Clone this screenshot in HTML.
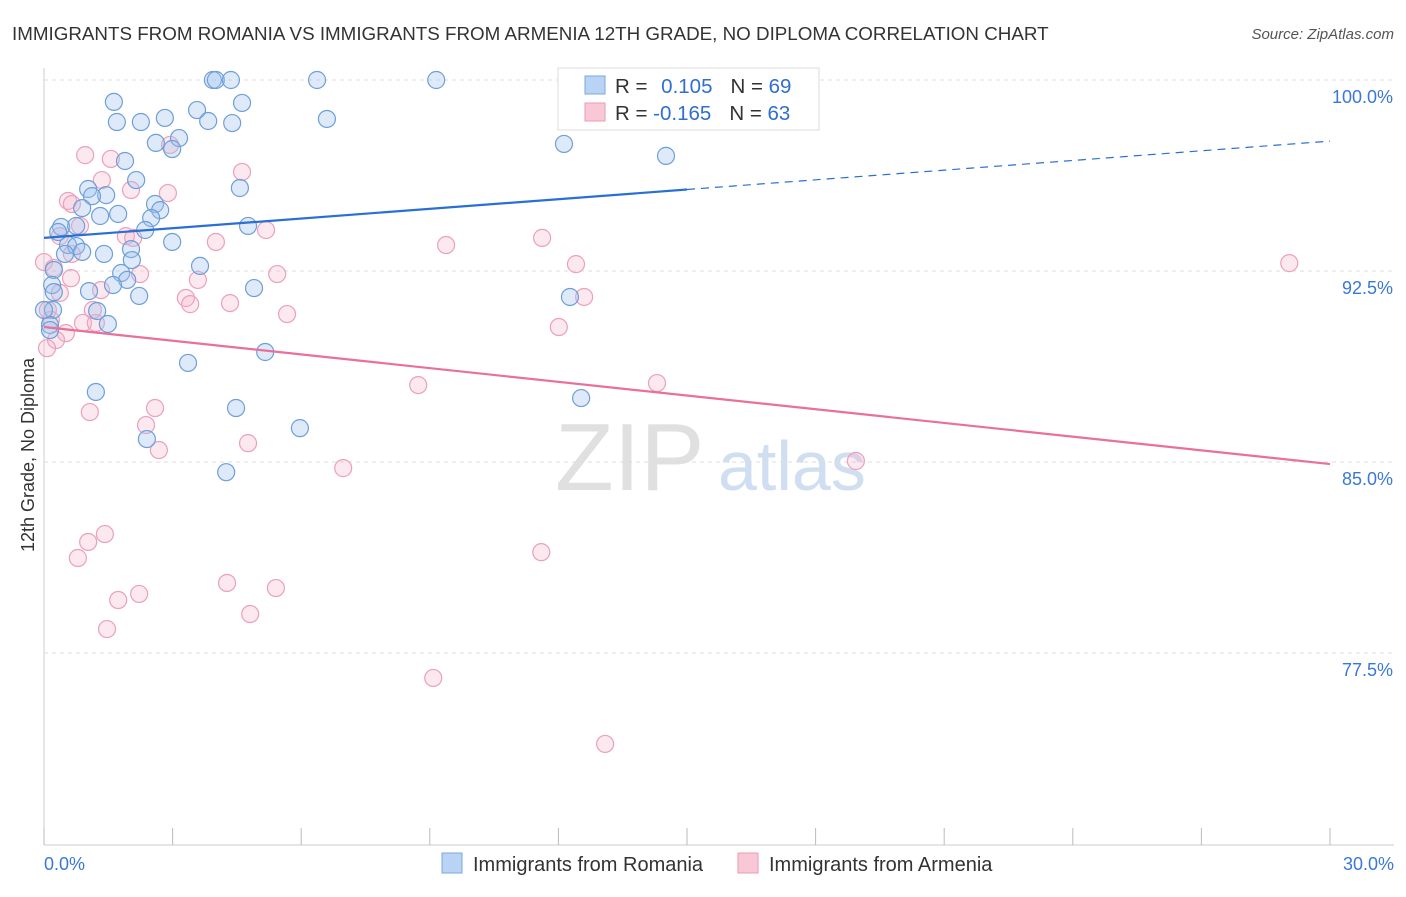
<!DOCTYPE html>
<html><head><meta charset="utf-8"><style>
body{margin:0;background:#fff;font-family:"Liberation Sans",sans-serif;}
svg text{font-family:"Liberation Sans",sans-serif;}
</style></head><body>
<svg id="chart" width="1406" height="892">
<text x="12" y="40" font-size="18.8" fill="#333">IMMIGRANTS FROM ROMANIA VS IMMIGRANTS FROM ARMENIA 12TH GRADE, NO DIPLOMA CORRELATION CHART</text>
<text x="1394" y="39" font-size="15" fill="#555" font-style="italic" text-anchor="end">Source: ZipAtlas.com</text>
<text transform="translate(34,455) rotate(-90)" font-size="18" fill="#333" text-anchor="middle">12th Grade, No Diploma</text>
<text x="555" y="490" font-size="96" fill="#e0e0e0" font-family="Liberation Serif">ZIP</text>
<text x="718" y="490" font-size="70" fill="#d0def2">atlas</text>
<g id="grid"></g><g id="pts"></g><g id="lines"></g>
<g>
<rect x="558" y="68" width="261" height="62" fill="#fff" stroke="#ddd"/>
<rect x="585" y="76" width="20" height="18" fill="#b9d3f5" stroke="#7aa7e0"/>
<rect x="585" y="103" width="20" height="18" fill="#f9c8d6" stroke="#ec9ab5"/>
<text x="615" y="93" font-size="20.5" fill="#333">R = <tspan fill="#2f6fcf" dx="8">0.105</tspan><tspan fill="#333" dx="18">N = </tspan><tspan fill="#2f6fcf">69</tspan></text>
<text x="615" y="120" font-size="20.5" fill="#333">R = <tspan fill="#2f6fcf">-0.165</tspan><tspan fill="#333" dx="18">N = </tspan><tspan fill="#2f6fcf">63</tspan></text>
</g>
<g>
<rect x="442" y="853" width="20" height="20" fill="#b9d3f5" stroke="#7aa7e0"/>
<text x="473" y="871" font-size="20" fill="#333">Immigrants from Romania</text>
<rect x="738" y="853" width="20" height="20" fill="#f9c8d6" stroke="#ec9ab5"/>
<text x="769" y="871" font-size="20" fill="#333">Immigrants from Armenia</text>
</g>
<text x="44" y="870" font-size="18" fill="#3a78d8">0.0%</text>
<text x="1394" y="870" font-size="18" fill="#3a78d8" text-anchor="end">30.0%</text>
</svg>
<script>
const blueX=[3.94,4.01,4.36,6.37,9.15,1.63,4.62,3.57,1.70,2.26,2.82,3.83,4.39,6.60,3.15,2.61,2.99,12.13,14.51,1.89,2.15,1.03,1.45,4.57,1.12,0.89,2.59,2.71,1.73,1.31,2.50,0.40,0.75,4.76,0.33,2.36,0.56,0.75,0.89,0.49,1.40,2.03,2.99,2.05,3.64,1.80,0.23,1.94,1.61,1.05,2.22,4.90,12.27,0.19,0.21,1.24,1.49,0.14,5.16,3.36,1.21,12.53,4.48,5.97,2.40,4.25,0.14,0.23,0];
const blueY=[100,100,100,100,100,99.14,99.10,98.82,98.35,98.35,98.51,98.39,98.31,98.47,97.72,97.53,97.29,97.49,97.02,96.82,96.07,95.72,95.48,95.76,95.44,94.97,95.13,94.89,94.74,94.66,94.58,94.23,94.27,94.27,94.03,94.11,93.52,93.48,93.25,93.17,93.17,93.36,93.64,92.93,92.70,92.42,92.54,92.15,91.95,91.71,91.52,91.83,91.48,91.95,90.97,90.93,90.42,90.38,89.32,88.89,87.75,87.51,87.12,86.33,85.90,84.60,90.18,91.67,90.97];
const pinkX=[0.96,1.56,2.94,4.62,1.35,2.03,2.89,0.56,0.65,0.84,0.37,1.91,2.08,5.18,4.01,9.38,11.62,0.65,0,0.23,2.24,5.44,12.41,29.05,0.63,3.59,1.33,3.31,3.41,4.34,12.60,5.67,0.91,1.21,12.01,0.51,0.28,0.07,8.73,14.30,2.59,1.07,2.38,2.68,4.76,6.98,18.94,11.60,1.42,1.03,0.79,4.27,5.41,2.22,1.73,4.81,1.47,9.08,13.09,0.16,0.37,0.09,1.14];
const pinkY=[97.05,96.90,97.45,96.39,96.07,95.68,95.56,95.25,95.13,94.27,93.87,93.87,93.80,94.11,93.64,93.52,93.80,93.17,92.85,92.62,92.38,92.38,92.77,92.81,92.22,92.15,91.75,91.44,91.20,91.24,91.48,90.81,90.46,90.46,90.30,90.06,89.79,89.47,88.02,88.10,87.12,86.96,86.45,85.47,85.74,84.76,85.04,81.46,82.17,81.86,81.23,80.25,80.05,79.82,79.58,79.03,78.44,76.52,73.93,90.58,91.64,90.97,90.97];
const blueTrend=[93.80,97.60];
const pinkTrend=[90.30,84.92];
const yTicks=[100,92.5,85,77.5];
const yTickLabels=["100.0%","92.5%","85.0%","77.5%"];
const xTicks=[0,3,6,9,12,15,18,21,24,27,30];
const NS="http://www.w3.org/2000/svg";
const sx=v=>44+v/30*1286;
const sy=v=>80+(100-v)/7.5*191;
function mk(tag,attrs,parent){const e=document.createElementNS(NS,tag);for(const k in attrs)e.setAttribute(k,attrs[k]);parent.appendChild(e);return e;}
const grid=document.getElementById('grid'),pts=document.getElementById('pts'),lines=document.getElementById('lines');
let ax=mk('line',{x1:44,y1:68,x2:44,y2:845,stroke:'#ccc'},grid);


let bx=mk('line',{x1:44,y1:845,x2:1394,y2:845,stroke:'#ccc'},grid);


yTicks.forEach((t,i)=>{
 const g=mk('line',{x1:44,y1:sy(t),x2:1394,y2:sy(t),stroke:'#ddd','stroke-dasharray':'4,4'},grid);
 
 
 const l=mk('text',{x:1393,y:sy(t)+23,'font-size':18,fill:'#3a78d8','text-anchor':'end'},grid);
 l.textContent=yTickLabels[i];
 
 
});
xTicks.forEach(t=>{
 const k=mk('line',{x1:sx(t),y1:828,x2:sx(t),y2:845,stroke:'#bbb'},grid);
 
 
});
pinkX.forEach((x,i)=>{
 const c=mk('circle',{cx:sx(x),cy:sy(pinkY[i]),r:8.5,fill:'rgba(246,180,202,0.3)',stroke:'#eba0bb','stroke-width':1.2},pts);
 
 
});
blueX.forEach((x,i)=>{
 const c=mk('circle',{cx:sx(x),cy:sy(blueY[i]),r:8.5,fill:'rgba(160,196,238,0.35)',stroke:'#6e9fd9','stroke-width':1.2},pts);
 
 
});
const bAt=x=>blueTrend[0]+(blueTrend[1]-blueTrend[0])*x/30;
let b1=mk('line',{x1:sx(0),y1:sy(bAt(0)),x2:sx(15),y2:sy(bAt(15)),stroke:'#2a6fd4','stroke-width':2.2},lines);


let b2=mk('line',{x1:sx(15),y1:sy(bAt(15)),x2:sx(30),y2:sy(bAt(30)),stroke:'#2a6fd4','stroke-width':1.2,'stroke-dasharray':'8,6'},lines);


let p1=mk('line',{x1:sx(0),y1:sy(pinkTrend[0]),x2:sx(30),y2:sy(pinkTrend[1]),stroke:'#e8709a','stroke-width':2.2},lines);


</script>
</body></html>
